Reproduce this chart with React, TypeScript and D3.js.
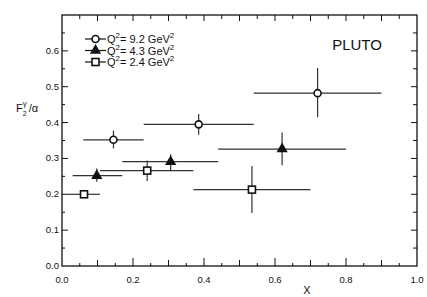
import React, { useEffect, useRef } from "react";
import * as d3 from "d3";

// Q^2 = 9.2 GeV^2 (open circles)
const q92X = [0.145, 0.385, 0.72];
const q92Y = [0.352, 0.395, 0.482];
const q92XLo = [0.06, 0.23, 0.54];
const q92XHi = [0.23, 0.54, 0.9];
const q92YLo = [0.328, 0.366, 0.415];
const q92YHi = [0.378, 0.424, 0.552];

// Q^2 = 4.3 GeV^2 (filled triangles)
const q43X = [0.098, 0.306, 0.62];
const q43Y = [0.252, 0.291, 0.326];
const q43XLo = [0.03, 0.17, 0.44];
const q43XHi = [0.17, 0.44, 0.8];
const q43YLo = [0.235, 0.267, 0.281];
const q43YHi = [0.272, 0.312, 0.372];

// Q^2 = 2.4 GeV^2 (open squares)
const q24X = [0.062, 0.24, 0.535];
const q24Y = [0.2, 0.266, 0.213];
const q24XLo = [0.017, 0.107, 0.37];
const q24XHi = [0.107, 0.37, 0.7];
const q24YLo = [0.192, 0.237, 0.148];
const q24YHi = [0.208, 0.294, 0.279];

const xTickLabels = ["0.0", "0.2", "0.4", "0.6", "0.8", "1.0"];
const yTickLabels = ["0.0", "0.1", "0.2", "0.3", "0.4", "0.5", "0.6"];
const legendLabels = ["9.2", "4.3", "2.4"];

const W = 427;
const H = 297;

const App = () => {
  const svgRef = useRef<SVGSVGElement>(null);

  useEffect(() => {
    const svg = d3.select(svgRef.current);
    svg.selectAll("*").remove();

    const margin = { top: 15, right: 10, bottom: 31, left: 62 };
    const width = W - margin.left - margin.right;
    const height = H - margin.top - margin.bottom;
    const ink = "#111";
    const font = "'Liberation Sans', Arial, sans-serif";

    const x = d3.scaleLinear().domain([0, 1]).range([0, width]);
    const y = d3.scaleLinear().domain([0, 0.7]).range([height, 0]);

    const g = svg
      .append("g")
      .attr("transform", `translate(${margin.left},${margin.top})`);

    // frame
    g.append("rect")
      .attr("width", width)
      .attr("height", height)
      .attr("fill", "none")
      .attr("stroke", ink)
      .attr("stroke-width", 1.3);

    // ticks (all inward)
    const xt = d3.range(0, 1.0001, 0.05);
    const yt = d3.range(0, 0.7001, 0.05);
    const isMajor = (v: number, step: number) =>
      Math.abs(v / step - Math.round(v / step)) < 1e-6;

    xt.slice(1, -1).forEach((v) => {
      const len = isMajor(v, 0.2) ? 8 : isMajor(v, 0.1) ? 6 : 3;
      g.append("line")
        .attr("x1", x(v)).attr("x2", x(v))
        .attr("y1", height).attr("y2", height - len)
        .attr("stroke", ink).attr("stroke-width", 1);
      g.append("line")
        .attr("x1", x(v)).attr("x2", x(v))
        .attr("y1", 0).attr("y2", isMajor(v, 0.1) ? 6 : 4)
        .attr("stroke", ink).attr("stroke-width", 1);
    });
    yt.slice(1, -1).forEach((v) => {
      const len = isMajor(v, 0.1) ? 6 : 3;
      g.append("line")
        .attr("x1", 0).attr("x2", len)
        .attr("y1", y(v)).attr("y2", y(v))
        .attr("stroke", ink).attr("stroke-width", 1);
      g.append("line")
        .attr("x1", width).attr("x2", width - (isMajor(v, 0.1) ? 6 : 4))
        .attr("y1", y(v)).attr("y2", y(v))
        .attr("stroke", ink).attr("stroke-width", 1);
    });

    // tick labels
    xTickLabels.forEach((t) => {
      g.append("text")
        .attr("x", x(+t))
        .attr("y", height + 17)
        .attr("text-anchor", "middle")
        .attr("font-family", font)
        .attr("font-size", 9.5)
        .attr("fill", ink)
        .text(t);
    });
    yTickLabels.forEach((t) => {
      g.append("text")
        .attr("x", -3)
        .attr("y", y(+t) + 3)
        .attr("text-anchor", "end")
        .attr("font-family", font)
        .attr("font-size", 9.5)
        .attr("fill", ink)
        .text(t);
    });

    // axis titles
    g.append("text")
      .attr("x", x(0.69))
      .attr("y", height + 28)
      .attr("text-anchor", "middle")
      .attr("font-family", font)
      .attr("font-size", 11)
      .attr("fill", ink)
      .text("X");

    const yl = svg
      .append("text")
      .attr("x", 16)
      .attr("y", 112)
      .attr("font-family", font)
      .attr("font-size", 11)
      .attr("fill", ink);
    yl.append("tspan").text("F");
    yl.append("tspan").attr("dy", 4).attr("font-size", 7).text("2");
    yl.append("tspan").attr("dx", -4).attr("dy", -10).attr("font-size", 8).text("γ");
    yl.append("tspan").attr("dx", 2).attr("dy", 6).text("/α");

    g.append("text")
      .attr("x", width - 60)
      .attr("y", 35)
      .attr("text-anchor", "middle")
      .attr("font-family", font)
      .attr("font-size", 15)
      .attr("fill", ink)
      .text("PLUTO");

    // error bars + markers
    const series = [
      { xs: q92X, ys: q92Y, xl: q92XLo, xh: q92XHi, yl: q92YLo, yh: q92YHi, shape: "circle" },
      { xs: q43X, ys: q43Y, xl: q43XLo, xh: q43XHi, yl: q43YLo, yh: q43YHi, shape: "triangle" },
      { xs: q24X, ys: q24Y, xl: q24XLo, xh: q24XHi, yl: q24YLo, yh: q24YHi, shape: "square" },
    ];

    const drawMarker = (sel: any, shape: string, cx: number, cy: number) => {
      if (shape === "circle") {
        sel.append("circle")
          .attr("cx", cx).attr("cy", cy).attr("r", 3.5)
          .attr("fill", "#fff").attr("stroke", ink).attr("stroke-width", 1.6);
      } else if (shape === "triangle") {
        sel.append("path")
          .attr("d", d3.symbol(d3.symbolTriangle, 55)())
          .attr("transform", `translate(${cx},${cy})`)
          .attr("fill", ink);
      } else {
        sel.append("rect")
          .attr("x", cx - 3.5).attr("y", cy - 3.5)
          .attr("width", 7).attr("height", 7)
          .attr("fill", "#fff").attr("stroke", ink).attr("stroke-width", 1.6);
      }
    };

    series.forEach((s) => {
      s.xs.forEach((xv, i) => {
        g.append("line")
          .attr("x1", x(s.xl[i])).attr("x2", x(s.xh[i]))
          .attr("y1", y(s.ys[i])).attr("y2", y(s.ys[i]))
          .attr("stroke", "#333").attr("stroke-width", 1.2);
        g.append("line")
          .attr("x1", x(xv)).attr("x2", x(xv))
          .attr("y1", y(s.yl[i])).attr("y2", y(s.yh[i]))
          .attr("stroke", "#333").attr("stroke-width", 1.2);
        drawMarker(g, s.shape, x(xv), y(s.ys[i]));
      });
    });

    // legend
    const legend = g.append("g").attr("transform", "translate(23,24)");
    series.forEach((s, i) => {
      const ly = i * 11.5;
      legend.append("line")
        .attr("x1", 0).attr("x2", 21)
        .attr("y1", ly).attr("y2", ly)
        .attr("stroke", ink).attr("stroke-width", 1.2);
      drawMarker(legend, s.shape, 10.5, ly);
      const t = legend.append("text")
        .attr("x", 22)
        .attr("y", ly + 4)
        .attr("font-family", font)
        .attr("font-size", 11)
        .attr("fill", ink);
      t.append("tspan").text("Q");
      t.append("tspan").attr("dy", -5).attr("font-size", 8).text("2");
      t.append("tspan").attr("dy", 5).text(`= ${legendLabels[i]}  GeV`);
      t.append("tspan").attr("dy", -5).attr("font-size", 8).text("2");
    });
  }, []);

  return (
    <div style={{ position: "absolute", left: 0, top: 0 }}>
      <svg ref={svgRef} width={W} height={H} style={{ display: "block", background: "#fff" }} />
    </div>
  );
};

export default App;
